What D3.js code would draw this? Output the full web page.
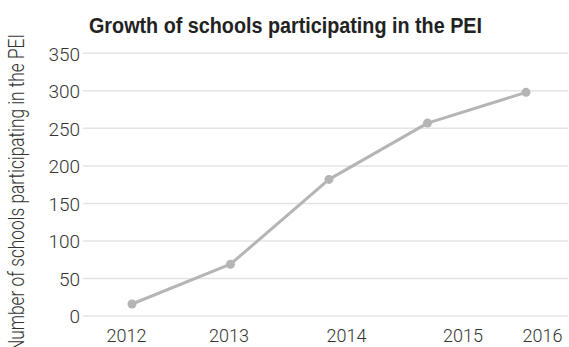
<!DOCTYPE html>
<html>
<head>
<meta charset="utf-8">
<script src="https://cdn.jsdelivr.net/npm/d3@7"></script>
<style>
  html, body { margin: 0; padding: 0; background: #fff; }
  svg { display: block; }
  text { font-family: Roboto, "Liberation Sans", sans-serif; font-weight: 300; fill: #333; }
</style>
</head>
<body>
<div id="chart"></div>
<script>
// data
var years = ["2012", "2013", "2014", "2015", "2016"];
var schools = [16, 69, 182, 257, 298];
var yTicks = [0, 50, 100, 150, 200, 250, 300, 350];

var title = "Growth of schools participating in the PEI";
var yTitle = "Number of schools participating in the PEI";

var width = 569, height = 347;

var svg = d3.select("#chart").append("svg")
    .attr("width", width)
    .attr("height", height);

var x = d3.scalePoint()
    .domain(years)
    .range([132, 526]);

var y = d3.scaleLinear()
    .domain([0, 350])
    .range([316, 53.3]);

// gridlines
svg.append("g")
    .attr("class", "grid")
    .selectAll("line")
    .data(yTicks)
    .enter().append("line")
    .attr("x1", 83)
    .attr("x2", 568)
    .attr("y1", function(d) { return y(d); })
    .attr("y2", function(d) { return y(d); })
    .style("stroke", "#e4e4e4")
    .style("stroke-width", 1.5);

// y axis labels
var yAxis = d3.axisLeft(y)
    .tickValues(yTicks)
    .tickSize(0)
    .tickPadding(0);

var gy = svg.append("g")
    .attr("transform", "translate(80,0)")
    .call(yAxis);
gy.select(".domain").remove();
gy.selectAll("text")
    .style("font-family", "Roboto, 'Liberation Sans', sans-serif")
    .style("font-weight", 300)
    .style("font-size", "19px")
    .style("fill", "#333")
    .attr("dy", "0.36em");

// x axis labels (labels in the original sit a little off the points)
var labelShift = [-6, -2, 17, 35, 16];
var xAxis = d3.axisBottom(x)
    .tickSize(0)
    .tickPadding(0);

var gx = svg.append("g")
    .attr("transform", "translate(0,342)")
    .call(xAxis);
gx.select(".domain").remove();
gx.selectAll(".tick text")
    .attr("y", 0)
    .attr("dy", 0)
    .attr("x", function(d, i) { return labelShift[i]; })
    .style("font-family", "Roboto, 'Liberation Sans', sans-serif")
    .style("font-weight", 300)
    .style("font-size", "18px")
    .style("fill", "#333");

// line
var line = d3.line()
    .x(function(d, i) { return x(years[i]); })
    .y(function(d) { return y(d); });

svg.append("path")
    .datum(schools)
    .attr("d", line)
    .style("fill", "none")
    .style("stroke", "#b5b5b5")
    .style("stroke-width", 3)
    .style("stroke-linejoin", "round");

svg.selectAll(".dot")
    .data(schools)
    .enter().append("circle")
    .attr("class", "dot")
    .attr("cx", function(d, i) { return x(years[i]); })
    .attr("cy", function(d) { return y(d); })
    .attr("r", 4.5)
    .style("fill", "#b5b5b5");

// title
svg.append("text")
    .attr("x", 89)
    .attr("y", 33)
    .attr("textLength", 393)
    .attr("lengthAdjust", "spacingAndGlyphs")
    .style("font-family", "'Liberation Sans', Arial, sans-serif")
    .style("font-size", "22px")
    .style("font-weight", "bold")
    .style("fill", "#222")
    .text(title);

// y title
svg.append("text")
    .attr("transform", "translate(24,34) rotate(-90)")
    .attr("text-anchor", "end")
    .attr("textLength", 318)
    .attr("lengthAdjust", "spacingAndGlyphs")
    .style("font-size", "22px")
    .style("fill", "#333")
    .text(yTitle);
</script>
</body>
</html>
